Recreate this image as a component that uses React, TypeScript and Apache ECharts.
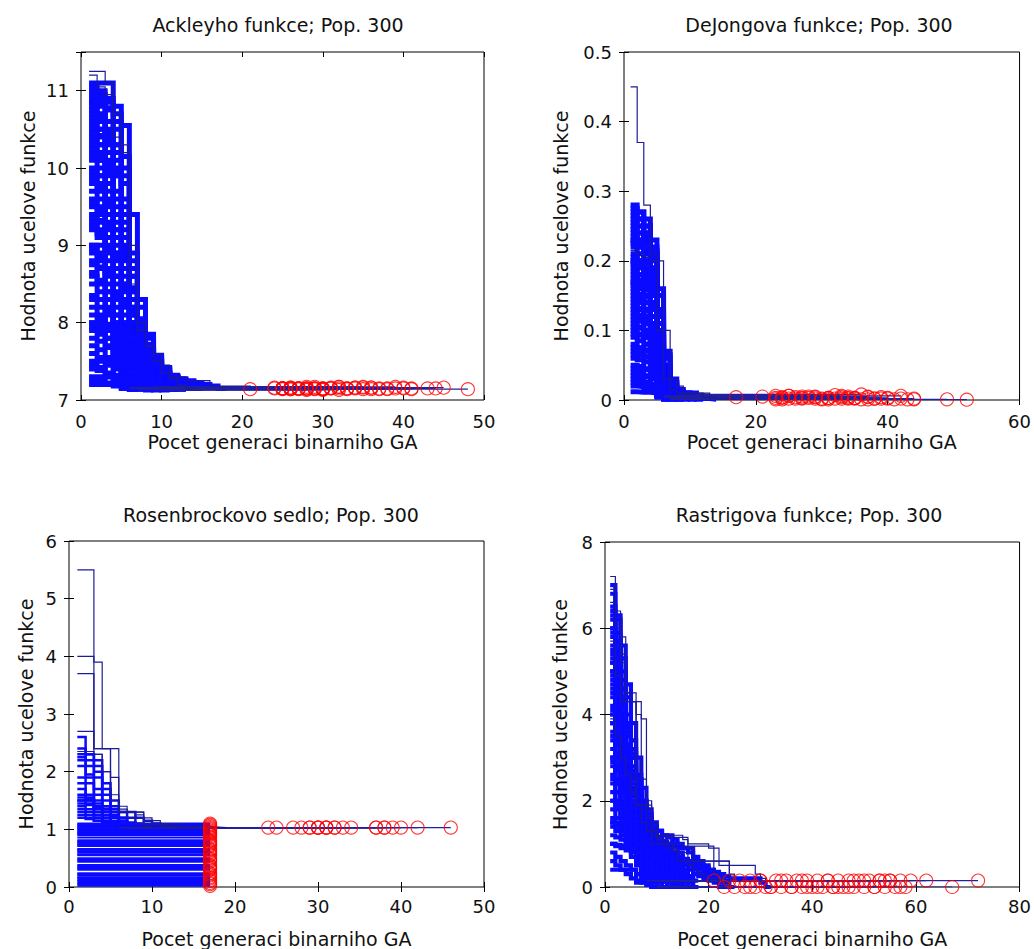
import React, { useEffect, useRef } from "react";
import * as echarts from "echarts";

const FONT = "DejaVu Sans";
const xAxisTitle = "Pocet generaci binarniho GA";
const yAxisTitle = "Hodnota ucelove funkce";

// ---------------- Ackleyho funkce ----------------
const ackleyTitle = "Ackleyho funkce; Pop. 300";
const ackleyXTicks = [0, 10, 20, 30, 40, 50];
const ackleyYTicks = [7, 8, 9, 10, 11];
const ackleyRuns: number[][] = [
  [11.25, 11.25, 11.1, 10.4, 10.2, 8.5, 7.9, 7.7, 7.6, 7.45, 7.3, 7.3, 7.25, 7.25, 7.25, 7.18, 7.18, 7.18, 7.18, 7.18, 7.14],
  [11.1, 11.1, 11.1, 10.8, 10.0, 8.3, 7.85, 7.65, 7.5, 7.35, 7.28, 7.22, 7.2, 7.16],
  [11.0, 10.95, 10.85, 10.6, 9.8, 8.2, 7.8, 7.6, 7.45, 7.3, 7.22, 7.18, 7.15],
  [10.95, 10.9, 10.75, 10.3, 9.5, 8.1, 7.75, 7.55, 7.4, 7.28, 7.2, 7.15],
  [10.9, 10.85, 10.6, 10.1, 9.3, 8.0, 7.7, 7.5, 7.35, 7.25, 7.18, 7.14],
  [10.85, 10.8, 10.5, 9.9, 9.1, 7.95, 7.65, 7.45, 7.3, 7.22, 7.16],
  [10.8, 10.7, 10.4, 9.7, 8.9, 7.9, 7.6, 7.4, 7.28, 7.2, 7.15],
  [10.75, 10.65, 10.3, 9.6, 8.8, 8.4, 7.7, 7.5, 7.35, 7.25, 7.18, 7.14],
  [10.7, 10.6, 10.2, 9.4, 8.7, 8.2, 7.65, 7.45, 7.3, 7.22, 7.15],
  [10.6, 10.5, 10.1, 9.3, 8.6, 8.0, 7.6, 7.4, 7.28, 7.2, 7.14],
  [10.5, 10.4, 10.0, 9.2, 8.5, 7.9, 7.55, 7.35, 7.25, 7.17],
  [10.4, 10.3, 9.9, 9.0, 8.4, 7.8, 7.5, 7.3, 7.22, 7.15],
  [10.3, 10.2, 9.8, 8.9, 8.3, 7.75, 7.45, 7.3, 7.2, 7.14],
  [10.2, 10.1, 9.6, 8.8, 8.2, 7.7, 7.4, 7.28, 7.18, 7.13],
  [10.1, 10.0, 9.5, 8.7, 8.1, 7.65, 7.38, 7.25, 7.17],
  [10.0, 9.9, 9.4, 8.6, 8.0, 7.6, 7.35, 7.22, 7.15],
  [9.9, 9.8, 9.3, 8.5, 7.95, 7.55, 7.32, 7.2, 7.14],
  [9.8, 9.7, 9.2, 8.4, 7.9, 7.5, 7.3, 7.2, 7.13],
  [9.7, 9.6, 9.1, 8.3, 7.85, 7.45, 7.28, 7.18, 7.15],
  [9.6, 9.5, 9.0, 8.2, 7.8, 7.4, 7.25, 7.17],
  [9.5, 9.4, 8.9, 8.1, 7.75, 7.38, 7.22, 7.15],
  [9.4, 9.3, 8.8, 8.0, 7.7, 7.35, 7.2, 7.14],
  [9.3, 9.2, 8.7, 8.0, 7.65, 7.32, 7.2, 7.13],
  [9.2, 9.1, 8.6, 7.9, 7.6, 7.3, 7.18, 7.15],
  [9.0, 8.9, 8.5, 7.85, 7.55, 7.28, 7.17, 7.14],
  [8.9, 8.8, 8.4, 7.8, 7.5, 7.25, 7.15],
  [8.8, 8.7, 8.3, 7.75, 7.45, 7.22, 7.16],
  [8.6, 8.5, 8.2, 7.7, 7.4, 7.2, 7.14],
  [8.5, 8.4, 8.1, 7.65, 7.38, 7.2, 7.15],
  [8.3, 8.2, 7.95, 7.6, 7.35, 7.18, 7.14],
  [8.2, 8.1, 7.9, 7.55, 7.3, 7.18, 7.15],
  [8.0, 7.95, 7.8, 7.5, 7.3, 7.16],
  [7.9, 7.85, 7.7, 7.45, 7.28, 7.15],
  [7.7, 7.65, 7.55, 7.4, 7.25, 7.14],
  [7.6, 7.55, 7.45, 7.32, 7.22, 7.15],
  [7.45, 7.42, 7.35, 7.28, 7.2, 7.14],
  [7.4, 7.38, 7.3, 7.25, 7.18, 7.14],
  [7.25, 7.24, 7.22, 7.2, 7.16],
  [7.2, 7.2, 7.2, 7.18, 7.15],
  [11.2, 11.05, 10.95, 10.7, 10.3, 9.0, 8.0, 7.7, 7.5, 7.35, 7.28, 7.2, 7.15],
  [10.65, 10.6, 10.45, 10.2, 9.6, 8.8, 8.0, 7.6, 7.4, 7.3, 7.24, 7.19, 7.15],
  [7.95, 7.9, 7.8, 7.7, 7.55, 7.42, 7.3, 7.24, 7.2, 7.17, 7.15],
  [10.35, 10.3, 10.2, 9.9, 9.2, 8.6, 7.85, 7.55, 7.4, 7.32, 7.28, 7.26, 7.24, 7.22, 7.2, 7.18, 7.15],
  [9.95, 9.9, 9.7, 9.4, 9.0, 8.7, 7.9, 7.62, 7.48, 7.36, 7.3, 7.27, 7.25, 7.2, 7.16],
  [9.0, 9.0, 8.95, 8.9, 8.85, 8.3, 7.75, 7.58, 7.44, 7.33, 7.3, 7.27, 7.19, 7.16],
  [8.0, 8.0, 7.98, 7.95, 7.9, 7.8, 7.6, 7.52, 7.42, 7.35, 7.3, 7.24, 7.2, 7.15],
  [7.5, 7.5, 7.5, 7.48, 7.45, 7.4, 7.35, 7.3, 7.27, 7.24, 7.2, 7.15],
  [7.3, 7.3, 7.3, 7.29, 7.28, 7.25, 7.22, 7.2, 7.18, 7.16],
  [11.05, 11.0, 10.9, 10.5, 9.9, 8.4, 7.8, 7.55, 7.4, 7.3, 7.2, 7.15],
  [10.55, 10.5, 10.35, 10.0, 9.4, 8.1, 7.7, 7.5, 7.35, 7.25, 7.16],
  [10.25, 10.15, 9.95, 9.5, 8.95, 8.0, 7.65, 7.45, 7.3, 7.2, 7.14],
  [9.85, 9.75, 9.55, 9.1, 8.7, 7.85, 7.6, 7.42, 7.3, 7.2, 7.15],
  [9.55, 9.45, 9.25, 8.85, 8.45, 7.8, 7.55, 7.38, 7.26, 7.18, 7.14],
  [9.25, 9.15, 8.95, 8.6, 8.25, 7.7, 7.5, 7.35, 7.24, 7.17],
  [8.95, 8.85, 8.65, 8.35, 8.0, 7.62, 7.45, 7.32, 7.22, 7.15],
  [8.65, 8.55, 8.4, 8.1, 7.85, 7.55, 7.4, 7.28, 7.2, 7.14],
  [8.35, 8.3, 8.15, 7.95, 7.72, 7.5, 7.36, 7.26, 7.18, 7.15],
  [8.1, 8.05, 7.92, 7.78, 7.6, 7.45, 7.32, 7.24, 7.17],
  [7.8, 7.76, 7.68, 7.56, 7.46, 7.36, 7.28, 7.21, 7.16],
  [10.45, 10.42, 10.38, 10.3, 10.15, 8.9, 8.2, 7.8, 7.55, 7.4, 7.3, 7.25, 7.2, 7.15],
  [10.15, 10.1, 10.05, 9.95, 9.8, 8.6, 8.05, 7.72, 7.52, 7.4, 7.3, 7.23, 7.17],
  [9.35, 9.32, 9.28, 9.2, 9.1, 8.45, 7.95, 7.66, 7.5, 7.38, 7.29, 7.22, 7.16],
  [8.75, 8.72, 8.68, 8.6, 8.5, 8.15, 7.88, 7.64, 7.46, 7.34, 7.26, 7.2, 7.15],
  [10.85, 10.82, 10.78, 10.7, 10.55, 9.4, 8.3, 7.85, 7.58, 7.42, 7.32, 7.25, 7.19, 7.15],
];
const ackleyEnds = [
  48, 45, 44, 43, 41, 40, 39, 38, 37, 36, 35, 34, 33, 32, 32, 31, 30, 30, 29, 29, 28, 28, 28, 27,
  27, 26, 26, 26, 25, 25, 25, 24, 24, 21, 32, 35, 30, 31, 33, 29, 27, 40, 38, 36, 34, 31, 28, 26,
  33, 35, 37, 30, 29, 28, 27, 26, 25, 32, 34, 41, 39, 36, 30, 25,
];

// ---------------- DeJongova funkce ----------------
const dejongTitle = "DeJongova funkce; Pop. 300";
const dejongXTicks = [0, 20, 40, 60];
const dejongYTicks = [0, 0.1, 0.2, 0.3, 0.4, 0.5];
const dejongRuns: number[][] = [
  [0.45, 0.37, 0.28, 0.21, 0.1, 0.03, 0.015, 0.01, 0.01, 0.01, 0.01, 0.004, 0.002, 0.001, 0.001, 0.0005],
  [0.28, 0.27, 0.25, 0.2, 0.08, 0.025, 0.012, 0.01, 0.008, 0.006, 0.004, 0.002, 0.001],
  [0.27, 0.26, 0.24, 0.19, 0.07, 0.022, 0.01, 0.008, 0.005, 0.003, 0.001],
  [0.26, 0.25, 0.23, 0.18, 0.065, 0.02, 0.01, 0.007, 0.004, 0.002],
  [0.25, 0.24, 0.22, 0.17, 0.06, 0.018, 0.009, 0.006, 0.003, 0.001],
  [0.24, 0.23, 0.21, 0.16, 0.055, 0.016, 0.008, 0.005, 0.002],
  [0.23, 0.22, 0.2, 0.15, 0.05, 0.015, 0.008, 0.004, 0.001],
  [0.22, 0.21, 0.19, 0.14, 0.045, 0.014, 0.007, 0.003],
  [0.21, 0.2, 0.18, 0.13, 0.04, 0.012, 0.006, 0.002],
  [0.2, 0.19, 0.17, 0.12, 0.035, 0.011, 0.005, 0.002],
  [0.19, 0.18, 0.16, 0.11, 0.03, 0.01, 0.004, 0.001],
  [0.18, 0.17, 0.15, 0.1, 0.028, 0.009, 0.004, 0.001],
  [0.17, 0.16, 0.14, 0.095, 0.025, 0.008, 0.003],
  [0.16, 0.15, 0.13, 0.09, 0.022, 0.007, 0.003],
  [0.15, 0.14, 0.12, 0.085, 0.02, 0.006, 0.002],
  [0.14, 0.13, 0.115, 0.08, 0.018, 0.005, 0.002],
  [0.13, 0.12, 0.11, 0.075, 0.016, 0.005, 0.001],
  [0.12, 0.115, 0.1, 0.07, 0.015, 0.004, 0.001],
  [0.11, 0.105, 0.095, 0.065, 0.013, 0.004],
  [0.1, 0.095, 0.09, 0.06, 0.012, 0.003],
  [0.09, 0.085, 0.08, 0.055, 0.011, 0.003],
  [0.08, 0.075, 0.07, 0.05, 0.01, 0.002],
  [0.07, 0.068, 0.062, 0.045, 0.009, 0.002],
  [0.06, 0.058, 0.055, 0.04, 0.008, 0.001],
  [0.05, 0.048, 0.045, 0.035, 0.007, 0.001],
  [0.04, 0.038, 0.035, 0.03, 0.006],
  [0.03, 0.028, 0.026, 0.022, 0.005],
  [0.02, 0.019, 0.017, 0.015, 0.004],
  [0.235, 0.23, 0.225, 0.21, 0.12, 0.04, 0.02, 0.012, 0.01, 0.01, 0.006, 0.002],
  [0.205, 0.2, 0.195, 0.185, 0.1, 0.035, 0.015, 0.01, 0.008, 0.003],
  [0.155, 0.152, 0.148, 0.14, 0.09, 0.03, 0.012, 0.006],
  [0.215, 0.21, 0.205, 0.2, 0.2, 0.1, 0.03, 0.02, 0.01, 0.01, 0.01, 0.01, 0.005, 0.002],
  [0.245, 0.24, 0.235, 0.22, 0.11, 0.04, 0.015, 0.01, 0.005],
  [0.185, 0.18, 0.175, 0.165, 0.085, 0.028, 0.011, 0.004],
  [0.125, 0.122, 0.118, 0.11, 0.06, 0.02, 0.008, 0.003],
  [0.095, 0.093, 0.09, 0.085, 0.045, 0.015, 0.006],
  [0.065, 0.064, 0.062, 0.06, 0.035, 0.012, 0.005],
  [0.035, 0.034, 0.033, 0.032, 0.02, 0.008, 0.003],
  [0.225, 0.22, 0.215, 0.205, 0.13, 0.05, 0.025, 0.012, 0.01, 0.008],
  [0.175, 0.172, 0.168, 0.16, 0.11, 0.045, 0.018, 0.01, 0.005],
  [0.145, 0.143, 0.14, 0.135, 0.095, 0.038, 0.014, 0.007],
  [0.115, 0.113, 0.11, 0.105, 0.075, 0.03, 0.012, 0.005],
  [0.275, 0.27, 0.26, 0.23, 0.09, 0.03, 0.014, 0.01, 0.006, 0.002],
  [0.265, 0.26, 0.25, 0.215, 0.085, 0.028, 0.012, 0.008, 0.004],
  [0.255, 0.25, 0.24, 0.205, 0.08, 0.026, 0.011, 0.006, 0.002],
  [0.195, 0.19, 0.185, 0.175, 0.075, 0.024, 0.01, 0.004],
  [0.165, 0.162, 0.158, 0.15, 0.07, 0.022, 0.009, 0.003],
  [0.135, 0.132, 0.128, 0.12, 0.065, 0.02, 0.008, 0.002],
  [0.105, 0.103, 0.1, 0.095, 0.055, 0.018, 0.007, 0.002],
  [0.075, 0.074, 0.072, 0.07, 0.045, 0.016, 0.006],
  [0.045, 0.044, 0.043, 0.042, 0.03, 0.012, 0.004],
  [0.025, 0.024, 0.023, 0.022, 0.018, 0.008, 0.003],
  [0.012, 0.011, 0.011, 0.01, 0.008, 0.005, 0.002],
  [0.228, 0.226, 0.222, 0.212, 0.16, 0.07, 0.03, 0.015, 0.01, 0.006],
  [0.198, 0.196, 0.192, 0.186, 0.15, 0.065, 0.025, 0.012, 0.008, 0.004],
  [0.168, 0.166, 0.162, 0.156, 0.125, 0.06, 0.022, 0.01, 0.005],
];
const dejongEnds = [
  52, 49, 44, 44, 43, 42, 41, 40, 39, 38, 37, 36, 35, 34, 33, 32, 31, 30, 29, 28, 27,
  26, 25, 24, 23, 23, 21, 17, 38, 35, 33, 30, 27, 26, 24, 25, 29, 31, 36, 34, 32, 28,
  40, 37, 35, 33, 31, 29, 27, 25, 24, 23, 34, 42, 39, 37,
];

// ---------------- Rosenbrockovo sedlo ----------------
const rosenTitle = "Rosenbrockovo sedlo; Pop. 300";
const rosenXTicks = [0, 10, 20, 30, 40, 50];
const rosenYTicks = [0, 1, 2, 3, 4, 5, 6];
const rosenRuns: number[][] = [
  [5.5, 5.5, 3.9, 2.4, 2.4, 1.3, 1.3, 1.3, 1.1, 1.1, 1.1, 1.1, 1.1, 1.05, 1.05, 1.05, 1.04, 1.03],
  [4.0, 4.0, 2.4, 2.4, 1.5, 1.3, 1.3, 1.2, 1.1, 1.08, 1.06, 1.05, 1.04, 1.03],
  [3.7, 3.7, 2.3, 2.0, 1.5, 1.3, 1.2, 1.1, 1.05, 1.03],
  [2.7, 2.7, 2.4, 2.4, 1.9, 1.4, 1.3, 1.25, 1.2, 1.15, 1.1, 1.05, 1.03],
  [2.6, 2.3, 2.2, 1.8, 1.5, 1.3, 1.2, 1.1, 1.05, 1.03],
  [2.4, 2.3, 2.1, 1.7, 1.4, 1.2, 1.1, 1.05, 1.03],
  [2.3, 2.2, 2.0, 1.6, 1.3, 1.15, 1.08, 1.03],
  [2.25, 2.1, 1.9, 1.5, 1.25, 1.1, 1.05, 1.03],
  [2.2, 1.95, 1.7, 1.4, 1.2, 1.1, 1.03],
  [2.1, 1.9, 1.6, 1.35, 1.2, 1.08, 1.03],
  [1.9, 1.8, 1.5, 1.3, 1.15, 1.05, 1.03],
  [1.8, 1.6, 1.4, 1.25, 1.1, 1.03],
  [1.7, 1.55, 1.35, 1.2, 1.1, 1.03],
  [1.6, 1.5, 1.3, 1.15, 1.05, 1.03],
  [1.5, 1.45, 1.3, 1.2, 1.1, 1.03],
  [1.4, 1.35, 1.25, 1.15, 1.05, 1.03],
  [1.35, 1.3, 1.2, 1.1, 1.03],
  [1.3, 1.25, 1.2, 1.1, 1.05, 1.03],
  [1.25, 1.2, 1.15, 1.08, 1.03],
  [1.5, 1.5, 1.45, 1.4, 1.35, 1.3, 1.3, 1.2, 1.15, 1.1, 1.05, 1.03],
  [2.35, 2.35, 2.3, 2.0, 1.6, 1.35, 1.3, 1.3, 1.15, 1.1, 1.08, 1.05, 1.03],
  [1.55, 1.52, 1.4, 1.35, 1.3, 1.2, 1.12, 1.08, 1.05, 1.04, 1.03],
  [1.45, 1.42, 1.38, 1.3, 1.22, 1.15, 1.1, 1.06, 1.04, 1.03],
  [1.2, 1.18, 1.15, 1.12, 1.1, 1.08, 1.06, 1.05, 1.04, 1.03],
];
const rosenEnds = [46, 42, 40, 39, 38, 37, 34, 32, 31, 31, 30, 30, 29, 28, 27, 25, 24, 38, 32, 31, 30, 29, 33, 37];
// runs that stayed flat and stopped at generation 17
const rosenFlatValues = [
  0.02, 0.05, 0.07, 0.1, 0.12, 0.15, 0.17, 0.2, 0.22, 0.24, 0.3, 0.32, 0.34, 0.36, 0.38, 0.44,
  0.46, 0.48, 0.5, 0.55, 0.57, 0.6, 0.62, 0.64, 0.66, 0.71, 0.73, 0.75, 0.77, 0.79, 0.81, 0.86,
  0.9, 0.92, 0.94, 0.96, 0.98, 1.0, 1.02, 1.04, 1.06, 1.08, 1.1,
];
const rosenFlatEnd = 17;

// ---------------- Rastrigova funkce ----------------
const rastTitle = "Rastrigova funkce; Pop. 300";
const rastXTicks = [0, 20, 40, 60, 80];
const rastYTicks = [0, 2, 4, 6, 8];
const rastRuns: number[][] = [
  [7.2, 6.4, 5.8, 4.5, 4.5, 4.0, 3.9, 2.0, 1.5, 1.2, 1.2, 1.15, 1.15, 1.15, 1.15, 1.0, 1.0, 1.0, 1.0, 0.9, 0.9, 0.5, 0.5, 0.5, 0.5, 0.5, 0.5, 0.5, 0.3, 0.2, 0.15],
  [6.6, 6.0, 5.2, 4.3, 4.3, 1.9, 1.9, 1.8, 1.3, 1.1, 1.0, 0.9, 0.85, 0.8, 0.8, 0.5, 0.4, 0.3, 0.25, 0.2, 0.2, 0.15, 0.1, 0.0],
  [6.4, 5.7, 4.8, 3.6, 3.0, 2.3, 1.7, 1.4, 1.2, 1.1, 1.05, 1.0, 0.95, 0.9, 0.9, 0.9, 0.6, 0.5, 0.3, 0.2, 0.15],
  [6.2, 5.4, 4.2, 3.3, 2.7, 2.0, 1.6, 1.3, 1.1, 1.0, 0.8, 0.6, 0.4, 0.3, 0.2, 0.1, 0.0],
  [6.0, 5.1, 4.0, 3.1, 2.5, 1.9, 1.5, 1.2, 1.0, 0.8, 0.6, 0.5, 0.4, 0.25, 0.15],
  [5.8, 4.9, 3.8, 2.9, 2.3, 1.8, 1.4, 1.1, 0.9, 0.7, 0.5, 0.4, 0.3, 0.15, 0.0],
  [5.6, 4.7, 3.6, 2.8, 2.2, 1.7, 1.35, 1.05, 0.85, 0.65, 0.48, 0.35, 0.22, 0.1, 0.15],
  [5.4, 4.5, 3.5, 2.7, 2.1, 1.6, 1.3, 1.0, 0.8, 0.6, 0.45, 0.3, 0.2, 0.0],
  [5.2, 4.3, 3.3, 2.6, 2.0, 1.55, 1.25, 0.95, 0.75, 0.55, 0.4, 0.25, 0.15],
  [5.0, 4.1, 3.2, 2.5, 1.9, 1.5, 1.2, 0.9, 0.7, 0.5, 0.35, 0.2, 0.0],
  [4.8, 3.9, 3.0, 2.4, 1.85, 1.45, 1.15, 0.88, 0.65, 0.45, 0.3, 0.15],
  [4.6, 3.7, 2.9, 2.3, 1.8, 1.4, 1.1, 0.85, 0.6, 0.42, 0.28, 0.12, 0.0],
  [4.4, 3.5, 2.8, 2.2, 1.75, 1.35, 1.05, 0.8, 0.55, 0.38, 0.25, 0.15],
  [4.2, 3.4, 2.7, 2.1, 1.7, 1.3, 1.0, 0.75, 0.5, 0.35, 0.2, 0.0],
  [4.0, 3.3, 2.6, 2.0, 1.6, 1.25, 0.95, 0.7, 0.48, 0.3, 0.15],
  [3.8, 3.1, 2.5, 1.9, 1.5, 1.2, 0.9, 0.65, 0.45, 0.28, 0.12, 0.0],
  [3.6, 3.0, 2.4, 1.85, 1.45, 1.15, 0.88, 0.62, 0.4, 0.25, 0.15],
  [3.4, 2.8, 2.3, 1.8, 1.4, 1.1, 0.85, 0.6, 0.38, 0.2, 0.0],
  [3.2, 2.7, 2.2, 1.7, 1.35, 1.05, 0.8, 0.55, 0.35, 0.15],
  [3.0, 2.5, 2.0, 1.6, 1.3, 1.0, 0.75, 0.5, 0.3, 0.1, 0.0],
  [2.8, 2.4, 1.9, 1.5, 1.2, 0.95, 0.7, 0.45, 0.25, 0.15],
  [2.6, 2.2, 1.8, 1.45, 1.15, 0.9, 0.65, 0.4, 0.2, 0.0],
  [2.4, 2.0, 1.7, 1.4, 1.1, 0.85, 0.6, 0.35, 0.15],
  [2.2, 1.9, 1.6, 1.3, 1.05, 0.8, 0.55, 0.3, 0.1, 0.0],
  [2.0, 1.8, 1.5, 1.25, 1.0, 0.75, 0.5, 0.25, 0.15],
  [1.8, 1.6, 1.4, 1.2, 0.95, 0.7, 0.45, 0.2, 0.0],
  [1.6, 1.45, 1.3, 1.1, 0.9, 0.65, 0.4, 0.15],
  [1.4, 1.3, 1.2, 1.05, 0.85, 0.6, 0.35, 0.1, 0.0],
  [1.2, 1.15, 1.1, 1.0, 0.8, 0.55, 0.3, 0.15],
  [1.0, 0.95, 0.9, 0.85, 0.7, 0.5, 0.25, 0.05, 0.0],
  [0.4, 0.4, 0.4, 0.4, 0.4, 0.15, 0.1, 0.05, 0.0],
  [6.9, 6.1, 5.4, 4.5, 4.3, 4.3, 2.5, 1.6, 1.2, 1.2, 1.2, 1.2, 1.2, 1.2, 1.1, 0.9, 0.6, 0.6, 0.6, 0.6, 0.6, 0.6, 0.6, 0.3, 0.15],
  [5.7, 4.9, 4.3, 4.3, 4.3, 1.9, 1.9, 1.9, 1.0, 1.0, 1.0, 1.0, 1.0, 1.0, 0.95, 0.95, 0.95, 0.95, 0.95, 0.95, 0.3, 0.2, 0.0],
  [3.9, 3.5, 3.0, 2.6, 2.2, 1.9, 1.5, 1.3, 1.2, 1.15, 1.1, 1.0, 0.9, 0.6, 0.6, 0.6, 0.6, 0.6, 0.6, 0.6, 0.6, 0.6, 0.6, 0.2, 0.15],
  [5.3, 4.5, 3.7, 2.8, 2.3, 1.7, 1.4, 1.2, 1.1, 1.0, 0.9, 0.8, 0.75, 0.7, 0.65, 0.6, 0.55, 0.5, 0.45, 0.4, 0.35, 0.3, 0.25, 0.2, 0.2, 0.2, 0.2, 0.2, 0.2, 0.1, 0.0],
  [4.7, 3.9, 3.2, 2.5, 1.9, 1.5, 1.2, 1.1, 1.05, 1.0, 0.9, 0.7, 0.5, 0.3, 0.15],
  [2.9, 2.4, 2.0, 1.6, 1.3, 1.1, 1.0, 0.95, 0.9, 0.5, 0.3, 0.2, 0.1, 0.0],
  [1.5, 1.4, 1.3, 1.2, 1.1, 1.0, 0.9, 0.8, 0.7, 0.6, 0.5, 0.4, 0.3, 0.2, 0.15],
  [0.8, 0.7, 0.6, 0.5, 0.4, 0.3, 0.2, 0.1, 0.0],
  [0.6, 0.5, 0.4, 0.3, 0.2, 0.1, 0.15],
  [6.3, 5.4, 4.6, 3.7, 3.0, 2.3, 1.8, 1.45, 1.2, 1.05, 0.95, 0.85, 0.7, 0.6, 0.5, 0.4, 0.3, 0.25, 0.2, 0.15, 0.1, 0.0],
  [7.0, 6.2, 5.3, 4.4, 3.4, 2.6, 2.0, 1.6, 1.3, 1.1, 1.0, 0.9, 0.8, 0.7, 0.6, 0.5, 0.45, 0.4, 0.35, 0.3, 0.25, 0.2, 0.15],
  [4.1, 3.5, 2.9, 2.3, 1.8, 1.4, 1.15, 1.0, 0.9, 0.85, 0.8, 0.75, 0.7, 0.65, 0.6, 0.55, 0.5, 0.45, 0.4, 0.3, 0.2, 0.1, 0.0],
  [5.9, 5.0, 4.0, 3.2, 2.6, 2.1, 1.9, 1.7, 1.5, 1.3, 1.2, 1.2, 1.0, 0.8, 0.6, 0.5, 0.4, 0.3, 0.25, 0.2, 0.15],
  [4.9, 4.2, 3.6, 3.0, 2.5, 2.0, 1.7, 1.5, 1.4, 1.3, 1.2, 1.15, 1.1, 1.0, 0.9, 0.8, 0.7, 0.6, 0.5, 0.4, 0.3, 0.2, 0.1, 0.0],
  [6.5, 5.9, 5.0, 4.0, 3.2, 2.5, 1.9, 1.5, 1.25, 1.1, 0.95, 0.8, 0.6, 0.45, 0.3, 0.15],
  [6.0, 5.5, 4.6, 3.8, 3.0, 2.4, 1.85, 1.45, 1.2, 1.0, 0.85, 0.7, 0.5, 0.35, 0.2, 0.0],
  [5.5, 5.0, 4.3, 3.5, 2.8, 2.2, 1.75, 1.4, 1.15, 0.95, 0.8, 0.62, 0.45, 0.3, 0.15],
  [5.0, 4.6, 3.9, 3.2, 2.6, 2.05, 1.65, 1.35, 1.1, 0.9, 0.72, 0.55, 0.4, 0.25, 0.1, 0.0],
  [4.5, 4.2, 3.6, 2.95, 2.4, 1.95, 1.55, 1.28, 1.05, 0.85, 0.68, 0.5, 0.35, 0.2, 0.15],
  [4.0, 3.7, 3.2, 2.7, 2.2, 1.8, 1.45, 1.2, 1.0, 0.8, 0.62, 0.45, 0.3, 0.15, 0.0],
  [3.5, 3.3, 2.9, 2.45, 2.0, 1.65, 1.35, 1.12, 0.94, 0.76, 0.58, 0.42, 0.28, 0.15],
  [3.0, 2.85, 2.55, 2.2, 1.85, 1.52, 1.25, 1.05, 0.88, 0.7, 0.52, 0.38, 0.22, 0.1, 0.0],
  [2.5, 2.4, 2.2, 1.95, 1.65, 1.4, 1.18, 1.0, 0.82, 0.65, 0.48, 0.32, 0.18, 0.15],
  [2.0, 1.95, 1.85, 1.7, 1.5, 1.3, 1.1, 0.92, 0.76, 0.6, 0.45, 0.3, 0.15, 0.0],
  [1.5, 1.48, 1.44, 1.38, 1.28, 1.15, 1.0, 0.85, 0.7, 0.55, 0.4, 0.25, 0.1, 0.15],
  [1.0, 0.98, 0.96, 0.93, 0.88, 0.8, 0.7, 0.58, 0.45, 0.32, 0.2, 0.1, 0.0],
  [6.8, 6.3, 5.6, 4.7, 3.8, 3.0, 2.3, 1.8, 1.4, 1.15, 1.0, 0.85, 0.7, 0.55, 0.4, 0.25, 0.15],
  [5.2, 4.9, 4.4, 3.8, 3.1, 2.5, 2.0, 1.6, 1.3, 1.1, 0.95, 0.8, 0.65, 0.5, 0.35, 0.2, 0.0],
  [3.8, 3.6, 3.3, 2.9, 2.5, 2.1, 1.75, 1.45, 1.2, 1.0, 0.85, 0.7, 0.55, 0.4, 0.25, 0.15],
];
const rastEnds = [
  72, 67, 62, 58, 57, 56, 55, 54, 53, 52, 51, 50, 49, 48, 47, 46, 45, 44, 43, 42, 41, 40, 39,
  38, 37, 36, 35, 34, 33, 32, 31, 30, 29, 28, 27, 26, 25, 24, 23, 21, 44, 48, 39, 53, 47,
  50, 52, 54, 45, 43, 41, 38, 36, 34, 32, 30, 28, 59, 57, 55,
];

// ---------------- layout / style (positions only, no data) ----------------
const layout = [
  { left: 81, top: 52, width: 403, height: 348, titleX: 278, titleY: 25, xNameGap: 32, yNameGap: 44, xLabelMargin: 12, denseWidth: 5 },
  { left: 624, top: 52, width: 396, height: 348, titleX: 819, titleY: 25, xNameGap: 32, yNameGap: 54, xLabelMargin: 12, denseWidth: 5 },
  { left: 69, top: 541, width: 415, height: 348, titleX: 271, titleY: 515, xNameGap: 42, yNameGap: 34, xLabelMargin: 10, denseWidth: 2.5 },
  { left: 605, top: 542, width: 415, height: 347, titleX: 809, titleY: 515, xNameGap: 42, yNameGap: 36, xLabelMargin: 10, denseWidth: 4.2 },
];
// indices of runs drawn as thin dark outlines (visible outside the dense mass)
const outlineRuns = [[0, 39], [0, 31], [0, 1, 2, 3, 20], [0, 1, 31, 32, 33]];

const LINE_COLOR = "#0a0aff";
const OUTLINE_COLOR = "#1c1c96";
const TAIL_COLOR = "#2020a0";
const CIRCLE_COLOR = "#ff0000";

// dense part of a run: generations 1..n, plus one more generation holding the last value
function buildHead(values: number[]): number[][] {
  const pts = values.map((v, i) => [i + 1, v]);
  pts.push([values.length + 1, values[values.length - 1]]);
  return pts;
}
// held final value, from the end of the dense part up to the stopping generation
function buildTail(values: number[], end: number): number[][] | null {
  const start = values.length + 1;
  if (end <= start) return null;
  const last = values[values.length - 1];
  return [
    [start, last],
    [end, last],
  ];
}

function hasTick(ticks: number[], v: number) {
  return ticks.some((t) => Math.abs(t - v) < 1e-9);
}

export default function App() {
  const ref = useRef<HTMLDivElement>(null);

  useEffect(() => {
    document.body.style.margin = "0";
    if (!ref.current) return;
    const chart = echarts.init(ref.current, undefined, { renderer: "svg" });

    const panels = [
      { title: ackleyTitle, runs: ackleyRuns, ends: ackleyEnds, xTicks: ackleyXTicks, yTicks: ackleyYTicks, yMax: 11.5, flatFrom: Infinity },
      { title: dejongTitle, runs: dejongRuns, ends: dejongEnds, xTicks: dejongXTicks, yTicks: dejongYTicks, yMax: 0.5, flatFrom: Infinity },
      {
        title: rosenTitle,
        runs: [...rosenRuns, ...rosenFlatValues.map((v) => [v])],
        ends: [...rosenEnds, ...rosenFlatValues.map(() => rosenFlatEnd)],
        xTicks: rosenXTicks,
        yTicks: rosenYTicks,
        yMax: 6,
        flatFrom: rosenRuns.length,
      },
      { title: rastTitle, runs: rastRuns, ends: rastEnds, xTicks: rastXTicks, yTicks: rastYTicks, yMax: 8, flatFrom: Infinity },
    ];

    const labelStyle = { color: "#111", fontFamily: FONT, fontSize: 18 };
    const nameStyle = { color: "#111", fontFamily: FONT, fontSize: 19 };

    const grids: any[] = [];
    const xAxes: any[] = [];
    const yAxes: any[] = [];
    const series: any[] = [];
    const graphics: any[] = [];

    panels.forEach((p, i) => {
      const L = layout[i];
      grids.push({
        left: L.left,
        top: L.top,
        width: L.width,
        height: L.height,
        show: true,
        borderColor: "#000",
        borderWidth: 1,
        backgroundColor: "#fff",
      });
      const xMin = p.xTicks[0];
      const xMax = p.xTicks[p.xTicks.length - 1];
      const xInt = p.xTicks[1] - p.xTicks[0];
      const yMin = p.yTicks[0];
      const yInt = p.yTicks[1] - p.yTicks[0];
      const tick = { show: true, inside: true, length: 5, lineStyle: { color: "#000", width: 1 } };
      xAxes.push({
        type: "value",
        gridIndex: i,
        position: "bottom",
        min: xMin,
        max: xMax,
        interval: xInt,
        axisLine: { show: false },
        axisTick: tick,
        splitLine: { show: false },
        axisLabel: {
          ...labelStyle,
          margin: L.xLabelMargin,
          formatter: (v: number) => (hasTick(p.xTicks, v) ? String(v) : ""),
        },
        name: xAxisTitle,
        nameLocation: "middle",
        nameGap: L.xNameGap,
        nameTextStyle: nameStyle,
      });
      xAxes.push({
        type: "value",
        gridIndex: i,
        position: "top",
        min: xMin,
        max: xMax,
        interval: xInt,
        axisLine: { show: false },
        axisTick: tick,
        splitLine: { show: false },
        axisLabel: { show: false },
      });
      yAxes.push({
        type: "value",
        gridIndex: i,
        position: "left",
        min: yMin,
        max: p.yMax,
        interval: yInt,
        axisLine: { show: false },
        axisTick: tick,
        splitLine: { show: false },
        axisLabel: {
          ...labelStyle,
          margin: 12,
          formatter: (v: number) => (hasTick(p.yTicks, v) ? String(v) : ""),
        },
        name: yAxisTitle,
        nameLocation: "middle",
        nameGap: L.yNameGap,
        nameTextStyle: nameStyle,
      });
      yAxes.push({
        type: "value",
        gridIndex: i,
        position: "right",
        min: yMin,
        max: p.yMax,
        interval: yInt,
        axisLine: { show: false },
        axisTick: tick,
        splitLine: { show: false },
        axisLabel: { show: false },
      });

      // dense runs first, outline runs on top
      const order = p.runs.map((_, j) => j).sort((a, b) => {
        const oa = outlineRuns[i].includes(a) ? 1 : 0;
        const ob = outlineRuns[i].includes(b) ? 1 : 0;
        return oa - ob;
      });
      order.forEach((j) => {
        const run = p.runs[j];
        const isOutline = outlineRuns[i].includes(j);
        const isFlat = j >= p.flatFrom;
        const common = {
          type: "line",
          xAxisIndex: 2 * i,
          yAxisIndex: 2 * i,
          step: "end",
          symbol: "none",
          showSymbol: false,
          silent: true,
        };
        if (isFlat) {
          series.push({
            ...common,
            lineStyle: { color: LINE_COLOR, width: 2, cap: "butt" },
            data: [
              [1, run[0]],
              [p.ends[j], run[0]],
            ],
            z: 2,
          });
          return;
        }
        series.push({
          ...common,
          lineStyle: {
            color: isOutline ? OUTLINE_COLOR : LINE_COLOR,
            width: isOutline ? 1.2 : L.denseWidth,
            cap: "butt",
            join: "miter",
          },
          data: buildHead(run),
          z: isOutline ? 2.5 : 2,
        });
        const tail = buildTail(run, p.ends[j]);
        if (tail) {
          series.push({
            ...common,
            lineStyle: { color: TAIL_COLOR, width: 1.2 },
            data: tail,
            z: 2.2,
          });
        }
      });
      series.push({
        type: "scatter",
        xAxisIndex: 2 * i,
        yAxisIndex: 2 * i,
        symbol: "circle",
        symbolSize: 13,
        silent: true,
        itemStyle: { color: "rgba(255,255,255,0)", borderColor: CIRCLE_COLOR, borderWidth: 1.1 },
        data: p.runs.map((run, j) => [p.ends[j], run[run.length - 1]]),
        z: 3,
      });

      graphics.push({
        type: "text",
        x: L.titleX,
        y: L.titleY,
        style: {
          text: p.title,
          fill: "#111",
          font: `19px "${FONT}"`,
          textAlign: "center",
          textVerticalAlign: "middle",
          align: "center",
          verticalAlign: "middle",
        },
      });
    });

    chart.setOption({
      animation: false,
      backgroundColor: "#fff",
      grid: grids,
      xAxis: xAxes,
      yAxis: yAxes,
      series,
      graphic: graphics,
    });

    return () => chart.dispose();
  }, []);

  return (
    <div
      ref={ref}
      style={{ position: "absolute", left: 0, top: 0, width: 1034, height: 949 }}
    />
  );
}
